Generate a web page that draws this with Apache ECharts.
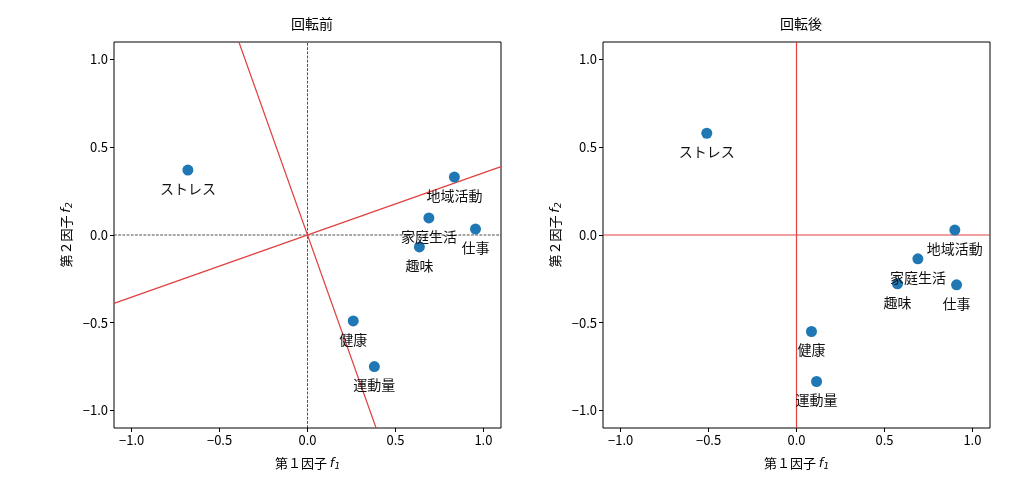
<!DOCTYPE html>
<html><head><meta charset="utf-8">
<script src="https://cdn.jsdelivr.net/npm/echarts@6/dist/echarts.min.js"></script>
<style>html,body{margin:0;background:#fff}#c{width:1018px;height:504px}</style>
</head><body><div id="c"></div>
<script>
const names = ['ストレス','地域活動','家庭生活','仕事','趣味','健康','運動量'];
const beforeX = [-0.68, 0.835, 0.69, 0.955, 0.636, 0.26, 0.38];
const beforeY = [0.37, 0.33, 0.097, 0.034, -0.068, -0.49, -0.75];
const afterX = [-0.51, 0.90, 0.69, 0.91, 0.574, 0.085, 0.114];
const afterY = [0.58, 0.028, -0.136, -0.284, -0.278, -0.55, -0.835];
const ticks = [-1.0, -0.5, 0.0, 0.5, 1.0];
const rotLine1 = [[-1.1, -0.39], [1.1, 0.39]];
const rotLine2 = [[0.39, -1.1], [-0.39, 1.1]];
const axisLineA = [[0, -1.1], [0, 1.1]];
const axisLineB = [[-1.1, 0], [1.1, 0]];

const font = "'Noto Sans CJK JP','DejaVu Sans',sans-serif";
const fmt = v => (v < 0 ? '−' : '') + Math.abs(v).toFixed(1);
function axis(idx, isX) {
  return {
    type: 'value', gridIndex: idx, min: -1.1, max: 1.1,
    splitLine: {show: false},
    axisLine: {show: false, onZero: false},
    axisTick: {show: true, customValues: ticks, length: 4, lineStyle: {color: '#000'}},
    axisLabel: {customValues: ticks, formatter: fmt, color: '#000', fontSize: 13, fontFamily: font, margin: 6},
    name: isX ? '{a|第１因子 }{i|f}{s|1}' : '{a|第２因子 }{i|f}{s|2}',
    nameLocation: 'middle', nameGap: isX ? 28 : 40,
    nameTextStyle: {rich: {
      a: {fontSize: 13, fontFamily: font, color: '#000'},
      i: {fontSize: 13, fontStyle: 'italic', fontFamily: 'DejaVu Sans', color: '#000'},
      s: {fontSize: 9, fontStyle: 'italic', fontFamily: 'DejaVu Sans', color: '#000', padding: [6, 0, 0, 0]}
    }}
  };
}
function pts(xs, ys) { return xs.map((x, i) => ({value: [x, ys[i]], name: names[i]})); }
function scatter(idx, xs, ys) {
  return {type: 'scatter', xAxisIndex: idx, yAxisIndex: idx, data: pts(xs, ys), symbolSize: 11,
    itemStyle: {color: '#1f77b4', opacity: 1}, z: 5,
    label: {show: true, position: 'bottom', distance: 6, formatter: p => p.name, color: '#111', fontSize: 14, fontFamily: font}};
}
function line(idx, d, color, type, w) {
  return {type: 'line', xAxisIndex: idx, yAxisIndex: idx, data: d, symbol: 'none', clip: true,
    lineStyle: {color: color, type: type, width: w}, silent: true, z: 2};
}
const chart = echarts.init(document.getElementById('c'));
chart.setOption({
  animation: false,
  title: [
    {text: '回転前', left: 307, top: 12, textAlign: 'center', textStyle: {fontSize: 14, fontWeight: 'normal', fontFamily: font, color: '#000'}},
    {text: '回転後', left: 796, top: 12, textAlign: 'center', textStyle: {fontSize: 14, fontWeight: 'normal', fontFamily: font, color: '#000'}}
  ],
  grid: [
    {left: 114, width: 387, top: 42, height: 386, show: true, borderColor: '#000', borderWidth: 1, backgroundColor: 'transparent'},
    {left: 603, width: 387, top: 42, height: 386, show: true, borderColor: '#000', borderWidth: 1, backgroundColor: 'transparent'}
  ],
  xAxis: [axis(0, true), axis(1, true)],
  yAxis: [axis(0, false), axis(1, false)],
  series: [
    line(0, axisLineA, '#000', 'dashed', 0.7),
    line(0, axisLineB, '#000', 'dashed', 0.7),
    line(0, rotLine1, '#e04040', 'solid', 1.2),
    line(0, rotLine2, '#e04040', 'solid', 1.2),
    line(1, axisLineA, '#e04040', 'solid', 1.2),
    line(1, axisLineB, '#e04040', 'solid', 1.2),
    scatter(0, beforeX, beforeY),
    scatter(1, afterX, afterY)
  ]
});
</script></body></html>
